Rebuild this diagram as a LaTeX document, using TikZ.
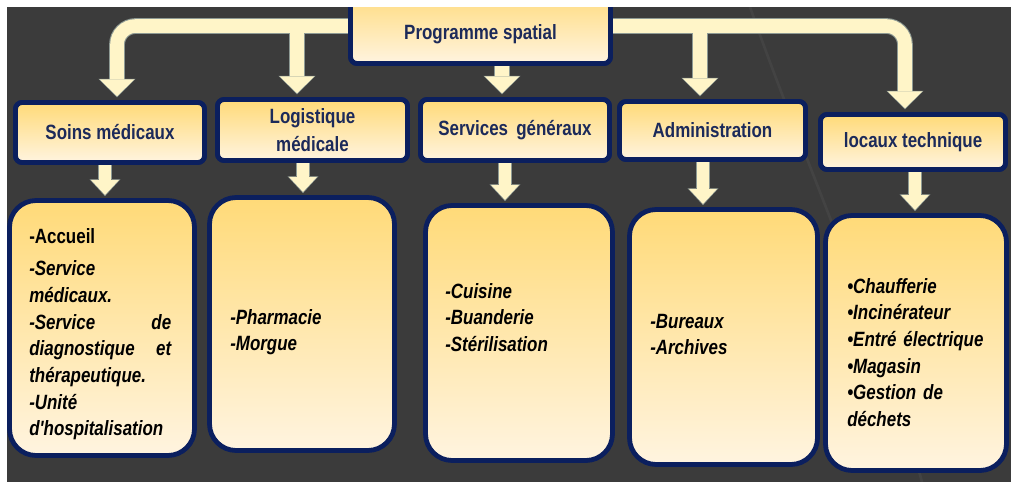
\documentclass[tikz,border=0pt]{standalone}
\usepackage{fontspec}
\newfontfamily\nar{Liberation Sans}[FakeStretch=0.82]
\usetikzlibrary{arrows.meta,calc}
\definecolor{bg}{HTML}{3B3B3B}
\definecolor{bgline}{HTML}{434343}
\definecolor{navy}{HTML}{0B1F5E}
\definecolor{txtnavy}{HTML}{1C2A5A}
\definecolor{btop}{HTML}{FFDA78}
\definecolor{bbot}{HTML}{FFF4E0}
\definecolor{arrfill}{HTML}{FFF5C8}
\definecolor{arrline}{HTML}{8E9A94}
\newcommand\drawconns[2]{%
  \draw[#1] (prog.west) -| (soins.north -| xa);
  \draw[#1] (prog.west -| xb) -- (logi.north -| xb);
  \draw[#1] (prog.south -| xc) -- (serv.north -| xc);
  \draw[#1] (prog.east -| xd) -- (admin.north -| xd);
  \draw[#1] (prog.east) -| (loc.north -| xe);
  \draw[#2] (soins.south -| ya) -- (b1.north -| ya);
  \draw[#2] (logi.south -| yb) -- (b2.north -| yb);
  \draw[#2] (serv.south -| yc) -- (b3.north -| yc);
  \draw[#2] (admin.south -| yd) -- (b4.north -| yd);
  \draw[#2] (loc.south -| ye) -- (b5.north -| ye);
}
\begin{document}
\begin{tikzpicture}[x=0.75pt,y=-0.75pt,
  box/.style={draw=navy,line width=3.6pt,top color=btop,bottom color=bbot,inner sep=0pt},
  headbox/.style={box,rounded corners=5pt,font=\nar\bfseries\fontsize{15.5}{21}\selectfont,text=txtnavy,align=center},
  listbox/.style={box,rounded corners=20pt},
  listtext/.style={font=\nar\bfseries\itshape\fontsize{15.5}{20}\selectfont,text=black,align=left,inner sep=0pt,anchor=base west,text width=112pt},
  bigO/.style={draw=arrline,line width=11.8pt,rounded corners=14pt,shorten >=2pt,-{Triangle[width=28pt,length=14pt,line width=0pt]}},
  bigF/.style={draw=arrfill,line width=10.2pt,rounded corners=14pt,shorten >=2.9pt,-{Triangle[width=26pt,length=12.6pt,line width=0pt]}},
  smallO/.style={draw=arrline,line width=10.6pt,shorten >=1.5pt,-{Triangle[width=23pt,length=12.5pt,line width=0pt]}},
  smallF/.style={draw=arrfill,line width=9pt,shorten >=2.4pt,-{Triangle[width=21pt,length=11.2pt,line width=0pt]}}
]
\useasboundingbox (0,0) rectangle (1011,482);
% background
\fill[bg] (0,0) rectangle (1011,482);
\draw[bgline,line width=2pt] (750,7) .. controls (800,150) and (880,330) .. (922,482);

% nodes
\node[headbox,minimum width=260*0.75pt,minimum height=75*0.75pt] (prog) at (480.5,26) {\raisebox{-10pt}[0pt][0pt]{Programme spatial}};
\node[headbox,minimum width=189*0.75pt,minimum height=60*0.75pt] (soins) at (110,132.5) {Soins médicaux};
\node[headbox,minimum width=190*0.75pt,minimum height=61*0.75pt] (logi) at (312.5,130) {Logistique\\médicale};
\node[headbox,minimum width=189*0.75pt,minimum height=61*0.75pt] (serv) at (515,130) {Services\, généraux};
\node[headbox,minimum width=186*0.75pt,minimum height=58*0.75pt] (admin) at (712.5,130.5) {Administration};
\node[headbox,minimum width=185*0.75pt,minimum height=55*0.75pt] (loc) at (913,142) {locaux technique};

\node[listbox,minimum width=185*0.75pt,minimum height=255*0.75pt] (b1) at (102,328) {};
\node[listbox,minimum width=185*0.75pt,minimum height=253*0.75pt] (b2) at (302,324) {};
\node[listbox,minimum width=187*0.75pt,minimum height=255*0.75pt] (b3) at (519,333) {};
\node[listbox,minimum width=188*0.75pt,minimum height=255*0.75pt] (b4) at (723.5,337) {};
\node[listbox,minimum width=181*0.75pt,minimum height=255*0.75pt] (b5) at (916,343) {};

% connector columns
\coordinate (xa) at (117,0);
\coordinate (xb) at (297,0);
\coordinate (xc) at (502,0);
\coordinate (xd) at (700,0);
\coordinate (xe) at (905,0);
\coordinate (ya) at (105,0);
\coordinate (yb) at (303,0);
\coordinate (yc) at (505,0);
\coordinate (yd) at (703,0);
\coordinate (ye) at (915,0);

\drawconns{bigO}{smallO}
\drawconns{bigF}{smallF}

% redraw header boxes over connectors
\node[headbox,minimum width=260*0.75pt,minimum height=75*0.75pt] at (prog) {\raisebox{-10pt}[0pt][0pt]{Programme spatial}};
\node[headbox,minimum width=189*0.75pt,minimum height=60*0.75pt] at (soins) {Soins médicaux};
\node[headbox,minimum width=190*0.75pt,minimum height=61*0.75pt] at (logi) {Logistique\\médicale};
\node[headbox,minimum width=189*0.75pt,minimum height=61*0.75pt] at (serv) {Services\, généraux};
\node[headbox,minimum width=186*0.75pt,minimum height=58*0.75pt] at (admin) {Administration};
\node[headbox,minimum width=185*0.75pt,minimum height=55*0.75pt] at (loc) {locaux technique};

% list texts
\node[listtext,text width=106.5pt] (t1) at (29,243) {{\upshape -Accueil}\\[4.7pt]
-Service\\
médicaux.\\
-Service\hfill de\\
diagnostique\hfill et\\
thérapeutique.\\
-Unité\\
d'hospitalisation};
\node[listtext] (t2) at (230,324) {-Pharmacie\\-Morgue};
\node[listtext] (t3) at (445,298) {-Cuisine\\-Buanderie\\-Stérilisation};
\node[listtext] (t4) at (650,328) {-Bureaux\\-Archives};
\node[listtext] (t5) at (847,293) {•Chaufferie\\•Incinérateur\\•Entré électrique\\•Magasin\\•Gestion de\\déchets};

% white margins
\fill[white] (0,0) rectangle (1011,7);
\fill[white] (0,0) rectangle (7,482);
\end{tikzpicture}
\end{document}
